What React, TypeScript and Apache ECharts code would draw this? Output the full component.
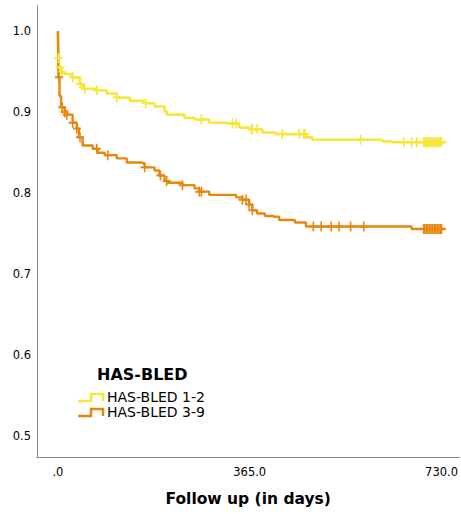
import React, { useEffect, useRef } from "react";
import * as echarts from "echarts";

// HAS-BLED 1-2 (yellow) survival steps
const yellowDays = [0, 1, 2, 7, 13, 28, 42, 47, 74, 93, 112, 137, 163, 184, 203, 207, 241, 260, 288, 322, 345, 364, 389, 415, 472, 484, 617, 636, 738];
const yellowSurv = [1.0, 0.967, 0.955, 0.949, 0.947, 0.943, 0.935, 0.929, 0.927, 0.923, 0.918, 0.914, 0.911, 0.907, 0.901, 0.897, 0.893, 0.891, 0.887, 0.886, 0.881, 0.879, 0.875, 0.873, 0.869, 0.866, 0.864, 0.863, 0.863];
const yellowCensor = [1, 4, 8, 28, 42, 51, 74, 112, 167, 273, 332, 339, 368, 370, 379, 427, 459, 468, 470, 576, 658, 673, 683, 696, 698, 701, 704, 707, 710, 713, 716, 719, 722, 725, 728, 730];

// HAS-BLED 3-9 (orange) survival steps
const orangeDays = [0, 1, 3, 6, 13, 17, 28, 36, 40, 47, 66, 76, 89, 112, 131, 161, 165, 184, 193, 203, 209, 237, 260, 269, 288, 339, 351, 364, 370, 379, 394, 411, 421, 451, 472, 673, 738];
const orangeSurv = [1.0, 0.943, 0.92, 0.906, 0.9, 0.897, 0.887, 0.88, 0.869, 0.859, 0.855, 0.85, 0.847, 0.843, 0.838, 0.837, 0.832, 0.828, 0.822, 0.815, 0.813, 0.81, 0.806, 0.802, 0.798, 0.795, 0.792, 0.786, 0.779, 0.775, 0.772, 0.771, 0.767, 0.764, 0.759, 0.756, 0.756];
const orangeCensor = [2, 8, 13, 17, 28, 36, 42, 74, 95, 165, 195, 207, 237, 269, 273, 351, 358, 364, 370, 486, 501, 520, 535, 557, 582, 696, 698, 701, 704, 707, 710, 713, 716, 719, 722, 725, 728, 730];

const xTicks = [0, 365, 730];
const yTicks = [0.5, 0.6, 0.7, 0.8, 0.9, 1.0];
const seriesNames = ["HAS-BLED 1-2", "HAS-BLED 3-9"];

const YELLOW = "#f5e73c";
const ORANGE = "#e8870e";
const FONT = "DejaVu Sans";

function survAt(days: number[], surv: number[], d: number) {
  let v = surv[0];
  for (let i = 0; i < days.length; i++) if (days[i] <= d) v = surv[i];
  return v;
}

const PLUS = "path://M4,0H6V4H10V6H6V10H4V6H0V4H4Z";

export default function App() {
  const ref = useRef<HTMLDivElement>(null);
  useEffect(() => {
    document.body.style.margin = "0";
    if (!ref.current) return;
    const chart = echarts.init(ref.current, undefined, { renderer: "svg" });
    const mkLine = (name: string, days: number[], surv: number[], color: string, width: number) => ({
      type: "line",
      name,
      step: "end",
      data: days.map((d, i) => [d, surv[i]]),
      showSymbol: false,
      symbol: "none",
      lineStyle: { color, width },
      itemStyle: { color },
      z: 2,
    });
    const mkCensor = (name: string, days: number[], surv: number[], cens: number[], color: string) => ({
      type: "scatter",
      name,
      data: cens.map((d) => [d, survAt(days, surv, d)]),
      symbol: PLUS,
      symbolSize: [8, 10],
      itemStyle: { color, opacity: 1 },
      z: 3,
    });
    chart.setOption({
      animation: false,
      grid: { left: 37, right: 0, top: 6, bottom: 57, containLabel: false },
      xAxis: {
        type: "value",
        min: -39.8,
        max: 764,
        axisLine: { show: true, onZero: false, lineStyle: { color: "#8a8a8a", width: 1 } },
        axisTick: { show: false },
        splitLine: { show: false },
        axisLabel: {
          customValues: xTicks,
          formatter: (v: number) => (v === 0 ? ".0" : v.toFixed(1)),
          margin: 9,
          fontSize: 11.5,
          fontFamily: FONT,
          color: "#000",
        },
        name: "Follow up (in days)",
        nameLocation: "middle",
        nameGap: 34,
        nameTextStyle: { fontSize: 15.5, fontWeight: "bold", fontFamily: FONT, color: "#000" },
      },
      yAxis: {
        type: "value",
        min: 0.4747,
        max: 1.031,
        axisLine: { show: true, onZero: false, lineStyle: { color: "#8a8a8a", width: 1 } },
        axisTick: { show: false },
        splitLine: { show: false },
        axisLabel: {
          customValues: yTicks,
          formatter: (v: number) => v.toFixed(1),
          margin: 6,
          fontSize: 11.5,
          fontFamily: FONT,
          color: "#000",
        },
      },
      series: [
        mkLine(seriesNames[0], yellowDays, yellowSurv, YELLOW, 2.6),
        mkCensor(seriesNames[0], yellowDays, yellowSurv, yellowCensor, YELLOW),
        mkLine(seriesNames[1], orangeDays, orangeSurv, ORANGE, 2.4),
        mkCensor(seriesNames[1], orangeDays, orangeSurv, orangeCensor, ORANGE),
      ],
      graphic: [
        { type: "text", left: 97, top: 366, style: { text: "HAS-BLED", fontSize: 16, fontWeight: "bold", fontFamily: FONT, fill: "#000" } },
        { type: "polyline", shape: { points: [[78, 401], [91, 401], [91, 394], [103, 394], [103, 401]] }, style: { stroke: YELLOW, lineWidth: 2.5, fill: "none" } },
        { type: "text", left: 107, top: 390, style: { text: seriesNames[0], fontSize: 14, fontFamily: FONT, fill: "#000" } },
        { type: "polyline", shape: { points: [[78, 416], [91, 416], [91, 409], [103, 409], [103, 416]] }, style: { stroke: ORANGE, lineWidth: 2.5, fill: "none" } },
        { type: "text", left: 107, top: 405, style: { text: seriesNames[1], fontSize: 14, fontFamily: FONT, fill: "#000" } },
      ],
    });
    return () => chart.dispose();
  }, []);
  return <div ref={ref} style={{ width: 461, height: 514 }} />;
}
